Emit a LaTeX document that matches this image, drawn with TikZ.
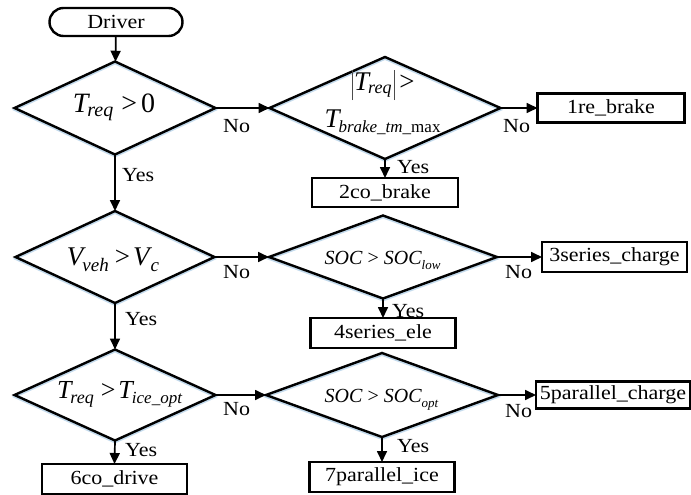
\documentclass[tikz,border=0pt]{standalone}
\usepackage{fontspec}
\setmainfont[FakeStretch=1.1]{Liberation Serif}
\newfontfamily\mfont{Liberation Serif}
\usetikzlibrary{shapes.geometric,shapes.misc,arrows.meta}
\definecolor{shblue}{RGB}{195,218,236}
\newcommand\sz[1]{\fontsize{#1}{#1}\selectfont}
\newcommand\absbar{{\color{black!70}\vrule width .8pt height 20pt depth 10pt}}
\begin{document}
\begin{tikzpicture}[x=1pt,y=-1pt,
  dia/.style={diamond, draw, line width=2.4pt, inner sep=0pt, outer sep=0pt,
    preaction={draw=shblue, line width=2.2pt, transform canvas={yshift=-1.8pt}}},
  box/.style={rectangle, draw, line width=2.4pt, inner sep=0pt, outer sep=0pt,
    font=\sz{20}},
  lbl/.style={inner sep=0pt, font=\sz{20}, anchor=base west},
  ftxt/.style={inner sep=0pt, anchor=base},
  arr/.style={line width=1.7pt, -{Triangle[length=11pt,width=10pt]}}
]
\useasboundingbox (0,0) rectangle (691,495);

% start
\node[rounded rectangle, draw, line width=2.4pt, minimum width=133pt, minimum height=28pt,
  inner sep=0pt, outer sep=0pt, font=\sz{20}] (driver) at (116,22) {Driver};

% diamonds
\node[dia, minimum width=201pt, minimum height=93pt] (d1) at (115,108) {};
\node[dia, minimum width=231pt, minimum height=102pt] (d2) at (385,108) {};
\node[dia, minimum width=199pt, minimum height=92pt] (d3) at (115,257) {};
\node[dia, minimum width=228pt, minimum height=83pt] (d4) at (383,257) {};
\node[dia, minimum width=201pt, minimum height=91pt] (d5) at (115,395) {};
\node[dia, minimum width=232pt, minimum height=84pt] (d6) at (382,395) {};

% diamond texts
\node[ftxt] (t1) at (114,112) {\mfont\sz{28}\itshape T\kern-1pt\raisebox{-4pt}{\sz{20}req}\hspace{8pt}\upshape>\hspace{4pt}0};
\node[ftxt] (t2a) at (383.5,90) {\mfont\sz{27}\absbar\hspace{1pt}\itshape T\kern-1pt\raisebox{-4pt}{\sz{18}req}\hspace{2pt}\absbar\hspace{5pt}\upshape>};
\node[ftxt] (t2b) at (382.5,128) {\mfont\sz{27}\itshape T\kern-1pt\raisebox{-5pt}{\sz{17}brake\_tm\_\upshape max}};
\node[ftxt] (t3) at (113,265) {\mfont\sz{27}\itshape V\kern-1pt\raisebox{-6pt}{\sz{19}veh}\hspace{6pt}\upshape>\hspace{3pt}\itshape V\kern1pt\raisebox{-6pt}{\sz{19}c}};
\node[ftxt] (t4) at (382.5,264) {\mfont\sz{20}\itshape SOC\hspace{4pt}>\hspace{4pt}SOC\raisebox{-5pt}{\sz{13}low}};
\node[ftxt] (t5) at (119.5,398) {\mfont\sz{26}\itshape T\kern-1pt\raisebox{-5pt}{\sz{18}req}\hspace{7pt}\upshape>\hspace{3pt}\itshape T\kern-1pt\raisebox{-5pt}{\sz{17}ice\_opt}};
\node[ftxt] (t6) at (381.5,402) {\mfont\sz{20}\itshape SOC\hspace{4pt}>\hspace{4pt}SOC\raisebox{-5pt}{\sz{13}opt}};

% result boxes
\node[box, minimum width=147pt, minimum height=29pt] (b1) at (611,108) {1re\_brake};
\node[box, minimum width=146pt, minimum height=29pt] (b2) at (385,192.5) {2co\_brake};
\node[box, minimum width=145pt, minimum height=30pt] (b3) at (614.5,257) {3series\_charge};
\node[box, minimum width=145pt, minimum height=30pt] (b4) at (383,333) {4series\_ele};
\node[box, minimum width=154pt, minimum height=27pt] (b5) at (613,395) {5parallel\_charge};
\node[box, minimum width=145pt, minimum height=30pt] (b6) at (114.5,479) {6co\_drive};
\node[box, minimum width=145pt, minimum height=30pt] (b7) at (382,477) {7parallel\_ice};

% connectors
\draw[arr] (driver) -- (d1);
\draw[arr] (d1.south) -- (d3.north);
\draw[arr] (d3.south) -- (d5.north);
\draw[arr] (d5.south) -- (b6.north);
\draw[arr] (d1.east) -- (d2.west);
\draw[arr] (d2.east) -- (b1.west);
\draw[arr] (d2.south) -- (b2.north);
\draw[arr] (d3.east) -- (d4.west);
\draw[arr] (d4.east) -- (b3.west);
\draw[arr] (d4.south) -- (b4.north);
\draw[arr] (d5.east) -- (d6.west);
\draw[arr] (d6.east) -- (b5.west);
\draw[arr] (d6.south) -- (b7.north);

% labels
\node[lbl] (y1) at (122,181) {Yes};
\node[lbl] (y3) at (125,325) {Yes};
\node[lbl] (y5) at (125,456) {Yes};
\node[lbl] (y2) at (397,173) {Yes};
\node[lbl] (y4) at (392,317) {Yes};
\node[lbl] (y6) at (397,452) {Yes};
\node[lbl] (n1) at (223,132) {No};
\node[lbl] (n3) at (223,278) {No};
\node[lbl] (n5) at (223,415) {No};
\node[lbl] (n2) at (503,132) {No};
\node[lbl] (n4) at (505,278) {No};
\node[lbl] (n6) at (505,417) {No};
\end{tikzpicture}
\end{document}
